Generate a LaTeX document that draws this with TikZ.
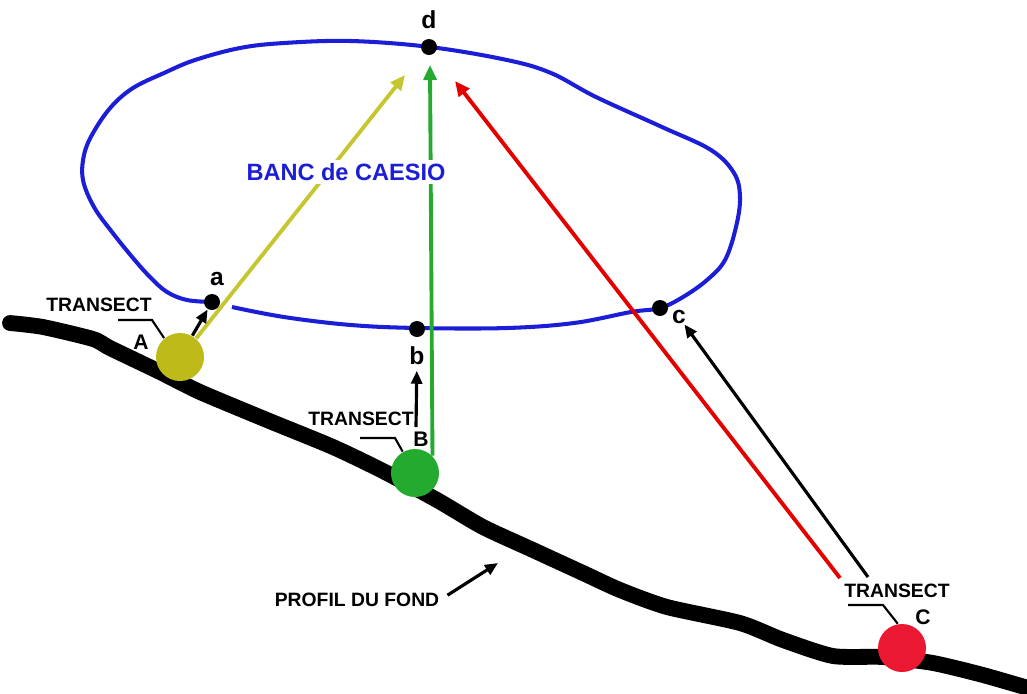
\documentclass[tikz,border=0pt]{standalone}
\usepackage{fontspec}
\setmainfont{Liberation Sans}
\usetikzlibrary{
  arrows.meta,
  positioning,
  calc
}
\definecolor{caesioblue}{RGB}{28,30,215}
\definecolor{oliveball}{RGB}{190,186,25}
\definecolor{oliveline}{RGB}{198,198,48}
\definecolor{greenball}{RGB}{36,170,46}
\definecolor{redball}{RGB}{234,24,48}

\tikzset{
  ball/.style={circle, inner sep=0pt, minimum size=0.48cm},
  pointdot/.style={circle, fill=black, inner sep=0pt, minimum size=0.16cm},
  transectlabel/.style={font=\fontsize{5.5}{6}\selectfont\bfseries, inner sep=0pt},
  letterlabel/.style={font=\fontsize{7}{8}\selectfont\bfseries, inner sep=0pt},
  capitallabel/.style={font=\fontsize{6}{7}\selectfont\bfseries, inner sep=0pt},
  sightline/.style={line width=1.1pt, -{Triangle[length=1.5mm,width=1.3mm]}},
  shortarrow/.style={line width=0.9pt, -{Triangle[length=1.3mm,width=1.1mm]}},
  leader/.style={line width=0.6pt}
}

\begin{document}
\begin{tikzpicture}[x=0.01cm, y=-0.01cm]
  \useasboundingbox (0,0) rectangle (1027,693);
  % school outline
  \draw[caesioblue, line width=1.15pt, line join=round] plot[smooth, tension=0.6] coordinates {
    (232,307) (284,317) (351,325) (418,328) (507,328) (574,323) (631,312) (660,308)
    (683,297) (707,280) (725,260) (736,227) (740,197) (734,173) (711,150) (662,127)
    (596,97) (551,73) (507,60) (430,47) (351,41) (284,43) (240,48) (195,60) (164,73)
    (133,88) (111,107) (93,133) (84,155) (83,180) (94,207) (112,232) (133,258)
    (150,277) (167,292) (187,300) (212,302)};
  % sea bottom
  \draw[line width=4.5pt, line join=round, line cap=round] plot[smooth, tension=0.4] coordinates {
    (10,323) (43,327) (93,339) (110,348) (160,372) (200,392) (267,420) (333,447)
    (383,471) (437,500) (483,527) (533,550) (583,573) (620,590) (667,607) (740,623)
    (783,640) (833,656) (883,657) (933,663) (983,675) (1035,690)};

  \node[ball, fill=oliveball] (A) at (180,357) {};
  \node[ball, fill=greenball] (B) at (415,473) {};
  \node[ball, fill=redball] (C) at (902,648) {};

  \node[pointdot] (a) at (212,302) {};
  \node[pointdot] (b) at (417,329) {};
  \node[pointdot] (c) at (660,308) {};
  \node[pointdot] (d) at (429,47) {};

  \node[letterlabel] (la) at (217,279) {a};
  \node[letterlabel] (lb) at (417,356) {b};
  \node[letterlabel] (lc) at (679,317) {c};
  \node[letterlabel] (ld) at (429,20) {d};
  \node[capitallabel] (lA) at (141,342) {A};
  \node[capitallabel] (lB) at (421,439) {B};
  \node[capitallabel] (lC) at (923,617) {C};

  \node[transectlabel] (tA) at (99,305) {TRANSECT};
  \node[transectlabel] (tB) at (361,419) {TRANSECT};
  \node[transectlabel] (tC) at (897,591) {TRANSECT};
  \node[transectlabel] (profil) at (357,600) {PROFIL DU FOND};

  \coordinate (tipA) at (405,75);
  \coordinate (tipB) at (430,65);
  \coordinate (tipC) at (455,81);
  \coordinate (startC) at (840,578);
  \coordinate (startb) at (416,427);
  \coordinate (startc) at (868,577);
  \coordinate (fond) at (498,563);

  \draw[sightline, oliveline] (A.49) -- (tipA);
  \draw[sightline, greenball] (B.45) -- (tipB);
  \draw[sightline, red!90!black] (startC) -- (tipC);

  \draw[shortarrow] (A.60) -- (a);
  \draw[shortarrow, shorten >=0.5mm] (startb) -- (lb);
  \draw[shortarrow] (startc) -- (lc);
  \draw[shortarrow, shorten <=0.9mm] (profil.east) -- (fond);

  % leaders from labels to the balls
  \coordinate (kA1) at (118,320);
  \coordinate (kA2) at (152,320);
  \draw[leader] (kA1) -- (kA2) -- (A.130);
  \coordinate (kB1) at (360,438);
  \coordinate (kB2) at (395,438);
  \draw[leader] (kB1) -- (kB2) -- (B.120);
  \coordinate (kC1) at (848,605);
  \coordinate (kC2) at (883,605);
  \draw[leader] (kC1) -- (kC2) -- (C.100);

  \node[font=\fontsize{6.7}{8}\selectfont\bfseries, text=caesioblue, fill=white, inner sep=1pt] (banc) at (346,172) {BANC de CAESIO};
\end{tikzpicture}
\end{document}
